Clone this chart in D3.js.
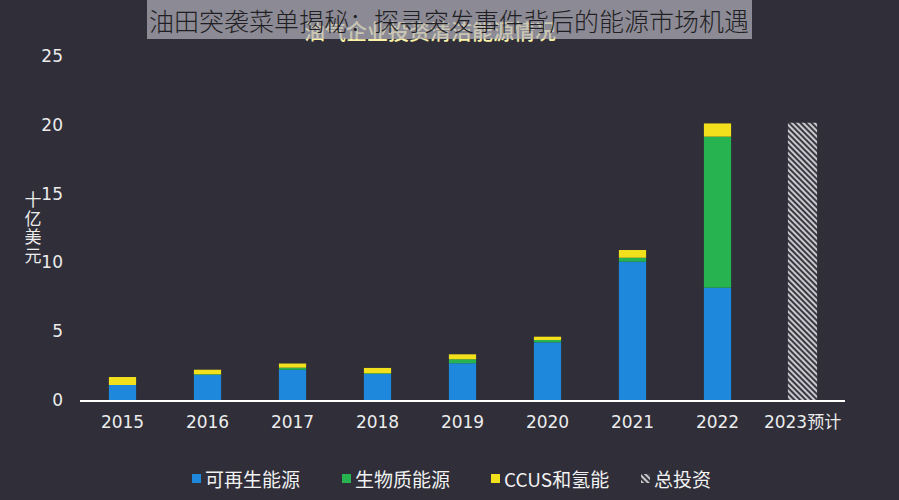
<!DOCTYPE html>
<html>
<head>
<meta charset="utf-8">
<script src="https://cdn.jsdelivr.net/npm/d3@7"></script>
<style>
  body { margin: 0; background: #2f2e39; }
  svg { display: block; }
</style>
</head>
<body>
<div id="chart"></div>
<script>
// chart data
var years = ["2015", "2016", "2017", "2018", "2019", "2020", "2021", "2022", "2023预计"];
var renewable = [1.09, 1.82, 2.2, 1.89, 2.67, 4.19, 10.05, 8.16, 0];
var biomass   = [0.0, 0.05, 0.15, 0.05, 0.29, 0.17, 0.29, 10.98, 0];
var ccus      = [0.58, 0.33, 0.3, 0.39, 0.36, 0.24, 0.56, 0.96, 0];
var totalInvest = [0, 0, 0, 0, 0, 0, 0, 0, 20.15];
var yTicks = [0, 5, 10, 15, 20, 25];
var seriesNames = ["可再生能源", "生物质能源", "CCUS和氢能", "总投资"];

var width = 899, height = 500;
var colors = { renewable: "#1e88dd", biomass: "#27b350", ccus: "#f3e01c" };

var svg = d3.select("#chart").append("svg")
  .attr("width", width).attr("height", height);

svg.append("rect").attr("width", width).attr("height", height).attr("fill", "#2f2e39");

var defs = svg.append("defs");
var pat = defs.append("pattern")
  .attr("id", "hatch")
  .attr("patternUnits", "userSpaceOnUse")
  .attr("width", 4).attr("height", 4)
  .attr("patternTransform", "rotate(-45)");
pat.append("rect").attr("width", 4).attr("height", 4).attr("fill", "#3a3942");
pat.append("rect").attr("width", 2).attr("height", 4).attr("fill", "#c9c9cd");

var x = d3.scaleBand()
  .domain(years)
  .range([80, 845])
  .paddingInner(0.68)
  .paddingOuter(0.34);

var y = d3.scaleLinear().domain([0, 25]).range([400, 56]);

// build stacks
var rows = years.map(function(yr, i) {
  return { year: yr, renewable: renewable[i], biomass: biomass[i], ccus: ccus[i] };
});
var stack = d3.stack().keys(["renewable", "biomass", "ccus"]);
var layers = stack(rows);

var g = svg.append("g");
layers.forEach(function(layer) {
  g.selectAll("rect." + layer.key)
    .data(layer.filter(function(d) { return d[1] - d[0] > 0; }))
    .enter().append("rect")
    .attr("class", layer.key)
    .attr("x", function(d) { return x(d.data.year); })
    .attr("width", x.bandwidth())
    .attr("y", function(d) { return y(d[1]); })
    .attr("height", function(d) { return y(d[0]) - y(d[1]); })
    .attr("fill", colors[layer.key]);
});

// total investment (hatched)
g.selectAll("rect.total")
  .data(years.filter(function(d, i) { return totalInvest[i] > 0; }))
  .enter().append("rect")
  .attr("class", "total")
  .attr("x", function(d) { return x(d) - 1; })
  .attr("width", x.bandwidth() + 2)
  .attr("y", function(d) { return y(totalInvest[years.indexOf(d)]); })
  .attr("height", function(d) { return y(0) - y(totalInvest[years.indexOf(d)]); })
  .attr("fill", "url(#hatch)");

// baseline
svg.append("line")
  .attr("x1", 80).attr("x2", 845)
  .attr("y1", y(0) + 1).attr("y2", y(0) + 1)
  .attr("stroke", "#ffffff").attr("stroke-width", 2);

// y axis (labels only)
var yAxis = d3.axisLeft(y).tickValues(yTicks).tickSize(0).tickPadding(0);
var yg = svg.append("g").attr("transform", "translate(63,0)").call(yAxis);
yg.select(".domain").remove();
yg.selectAll("text")
  .attr("fill", "#ececec")
  .style("font-family", "DejaVu Sans")
  .style("font-size", "17px");

// x axis labels
var xAxis = d3.axisBottom(x).tickSize(0).tickPadding(0);
var xg = svg.append("g").attr("transform", "translate(0,416)").call(xAxis);
xg.select(".domain").remove();
xg.selectAll("text")
  .attr("fill", "#ececec")
  .style("font-family", "DejaVu Sans, Noto Sans CJK SC")
  .style("font-size", "17px");

// y title, one character per line
var yTitle = svg.append("text")
  .attr("fill", "#ececec")
  .style("font-family", "Noto Sans CJK SC")
  .style("font-size", "17px")
  .attr("text-anchor", "middle");
"十亿美元".split("").forEach(function(ch, i) {
  yTitle.append("tspan").attr("x", 33).attr("y", 206 + i * 18.5).text(ch);
});

// legend
var legendX = [192, 342, 491, 641];
var legendFill = [colors.renewable, colors.biomass, colors.ccus, "url(#hatch)"];
var lg = svg.append("g");
seriesNames.forEach(function(name, i) {
  lg.append("rect")
    .attr("x", legendX[i]).attr("y", 474)
    .attr("width", 9).attr("height", 9)
    .attr("fill", legendFill[i]);
  lg.append("text")
    .attr("x", legendX[i] + 13).attr("y", 487)
    .attr("fill", "#f2f2f2")
    .style("font-family", "Noto Sans CJK SC")
    .style("font-size", "19px")
    .text(name);
});

// original chart title, mostly covered by the banner
svg.append("text")
  .attr("x", 430).attr("y", 39)
  .attr("text-anchor", "middle")
  .attr("fill", "#fbf3a8")
  .style("font-family", "Noto Sans CJK SC")
  .style("font-weight", "500")
  .style("font-size", "21px")
  .text("油气企业投资清洁能源情况");

svg.append("rect")
  .attr("x", 147).attr("y", 0)
  .attr("width", 605).attr("height", 39)
  .attr("fill", "#b3b2ba")
  .attr("opacity", 0.7);

svg.append("text")
  .attr("x", 449).attr("y", 31)
  .attr("text-anchor", "middle")
  .attr("fill", "#1f1f24")
  .style("font-family", "Noto Sans CJK SC")
  .style("font-weight", "300")
  .style("font-size", "25px")
  .text("油田突袭菜单揭秘：探寻突发事件背后的能源市场机遇");
</script>
</body>
</html>
